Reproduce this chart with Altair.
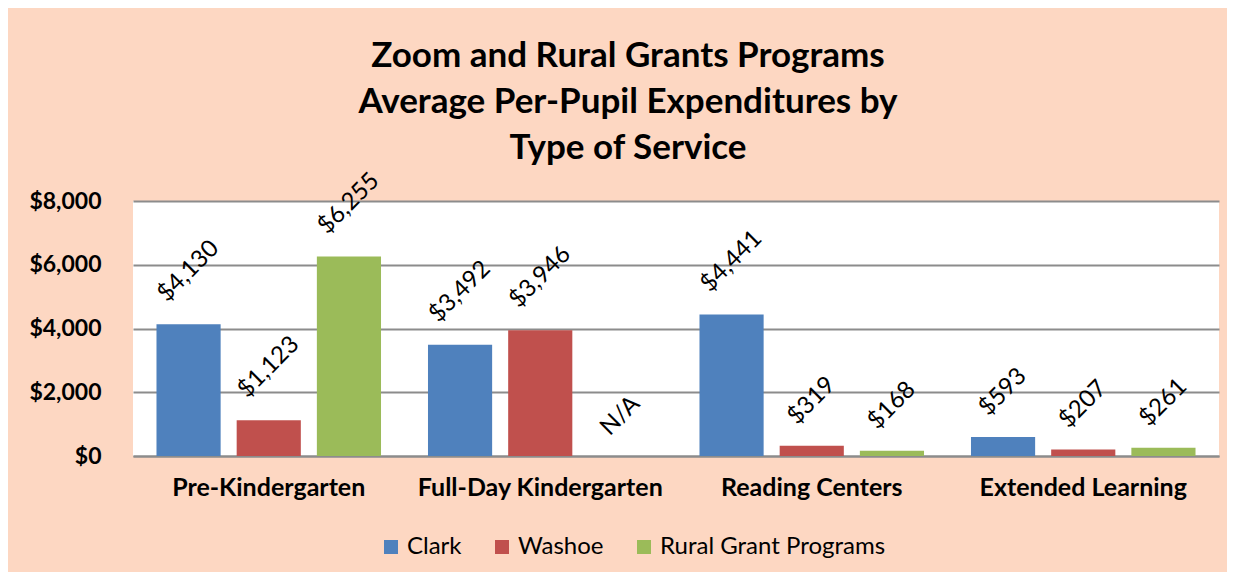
import altair as alt
import pandas as pd

categories = ["Pre-Kindergarten", "Full-Day Kindergarten", "Reading Centers", "Extended Learning"]
series = ["Clark", "Washoe", "Rural Grant Programs"]
clark = [4130, 3492, 4441, 593]
washoe = [1123, 3946, 319, 207]
rural = [6255, None, 168, 261]   # None = N/A
colors = ["#4F81BD", "#C0504D", "#9BBB59"]

rows = []
for s, vals in zip(series, [clark, washoe, rural]):
    for c, v in zip(categories, vals):
        rows.append({
            "category": c,
            "series": s,
            "value": v,
            "pos": v if v is not None else 0,
            "label": f"${v:,}" if v is not None else "N/A",
        })
df = pd.DataFrame(rows)

FONT = "Lato"

x = alt.X("category:N", sort=categories,
          scale=alt.Scale(paddingInner=0.173, paddingOuter=0.0865),
          axis=alt.Axis(title=None, labelAngle=0, labelFontWeight="bold", labelFontSize=25,
                        labelFont=FONT, labelColor="#000000", labelPadding=19, labelLimit=0,
                        ticks=False, domainColor="#8C8C8C", domainWidth=2))
xo = alt.XOffset("series:N", sort=series,
                 scale=alt.Scale(paddingInner=0.2, paddingOuter=0))
color = alt.Color("series:N", sort=series,
                  scale=alt.Scale(domain=series, range=colors),
                  legend=alt.Legend(title=None, orient="none", direction="horizontal",
                                    legendX=246, legendY=334, symbolType="square",
                                    symbolSize=196, symbolStrokeWidth=0, labelLimit=0,
                                    labelFont=FONT, labelFontSize=24, labelColor="#000000",
                                    columnPadding=28, labelOffset=4, padding=0))

bars = alt.Chart(df).transform_filter("datum.value != null").mark_bar().encode(
    x=x, xOffset=xo,
    y=alt.Y("value:Q", scale=alt.Scale(domain=[0, 8000]),
            axis=alt.Axis(title=None, values=[0, 2000, 4000, 6000, 8000], format="$,.0f",
                          labelFontWeight="bold", labelFontSize=23, labelFont=FONT,
                          labelColor="#000000", labelPadding=32, ticks=False, domain=False,
                          gridColor="#8C8C8C", gridWidth=2)),
    color=color,
)

def labels(cond, d):
    off = 0.7071 * d
    return alt.Chart(df).transform_filter(cond).mark_text(
        angle=315, align="center", baseline="middle", fontSize=24, font=FONT,
        color="#000000", dx=off, dy=-off
    ).encode(x=x, xOffset=xo, y=alt.Y("pos:Q"), text="label:N")

long_lbl = labels("length(datum.label) >= 6", 53)
short_lbl = labels("length(datum.label) == 4", 45)
na_lbl = labels("datum.label == 'N/A'", 40)

chart = alt.layer(bars, long_lbl, short_lbl, na_lbl).properties(
    width=1086, height=255,
    title=alt.Title(
        text=["Zoom and Rural Grants Programs", "Average Per-Pupil Expenditures by", "Type of Service"],
        fontSize=35, font=FONT, fontWeight="bold", color="#000000", lineHeight=46,
        anchor="middle", frame="group", dx=-48, offset=3),
    autosize=alt.AutoSizeParams(type="none"),
    padding={"left": 125, "top": 193, "right": 8, "bottom": 116},
    background="#FDD7C2",
).configure_view(fill="#FFFFFF", stroke=None)

chart.save("out.html", embed_options={"renderer": "svg", "actions": False})
